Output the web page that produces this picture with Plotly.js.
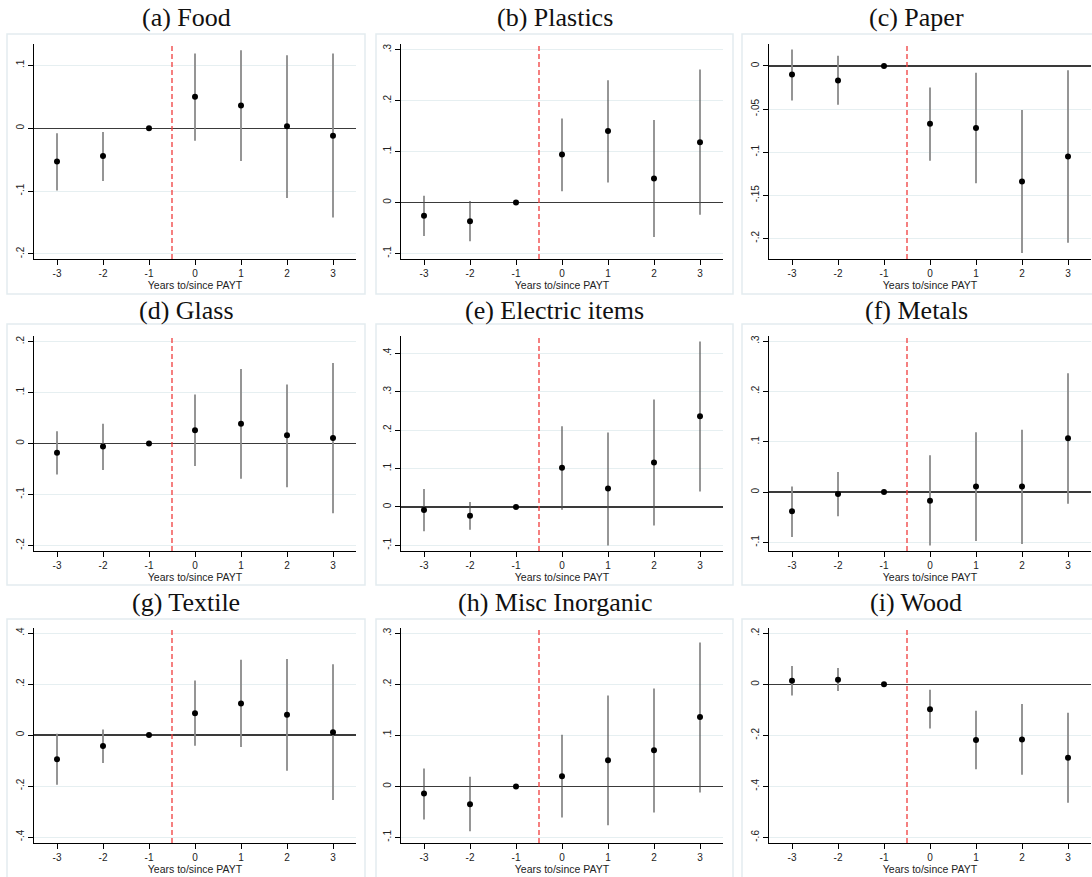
<!DOCTYPE html>
<html>
<head>
<meta charset="utf-8">
<script src="https://cdn.plot.ly/plotly-3.0.1.min.js"></script>
<style>html,body{margin:0;padding:0;background:#fff;}#chart{width:1092px;height:877px;}</style>
</head>
<body>
<div id="chart"></div>
<script>
// ---- Data ----
const years = [-3, -2, -1, 0, 1, 2, 3];
const xTickLabels = ["-3", "-2", "-1", "0", "1", "2", "3"];
const xAxisLabel = "Years to/since PAYT";
const eventLine = -0.5;

const panelTitles = ["(a) Food", "(b) Plastics", "(c) Paper", "(d) Glass", "(e) Electric items",
                     "(f) Metals", "(g) Textile", "(h) Misc Inorganic", "(i) Wood"];

const foodEst = [-0.053, -0.044, 0, 0.050, 0.036, 0.003, -0.012];
const foodHi  = [-0.008, -0.006, 0, 0.119, 0.124, 0.116, 0.119];
const foodLo  = [-0.099, -0.084, 0, -0.020, -0.052, -0.111, -0.142];

const plasticsEst = [-0.026, -0.037, 0, 0.094, 0.140, 0.047, 0.118];
const plasticsHi  = [0.013, 0.003, 0, 0.165, 0.240, 0.162, 0.261];
const plasticsLo  = [-0.066, -0.076, 0, 0.022, 0.039, -0.068, -0.024];

const paperEst = [-0.010, -0.017, 0, -0.067, -0.072, -0.134, -0.105];
const paperHi  = [0.019, 0.012, 0, -0.025, -0.008, -0.051, -0.005];
const paperLo  = [-0.040, -0.045, 0, -0.110, -0.136, -0.217, -0.205];

const glassEst = [-0.018, -0.006, 0, 0.026, 0.039, 0.016, 0.011];
const glassHi  = [0.024, 0.039, 0, 0.096, 0.146, 0.116, 0.158];
const glassLo  = [-0.061, -0.052, 0, -0.044, -0.069, -0.086, -0.137];

const electricEst = [-0.008, -0.023, 0, 0.102, 0.048, 0.116, 0.236];
const electricHi  = [0.047, 0.013, 0, 0.210, 0.194, 0.280, 0.431];
const electricLo  = [-0.063, -0.059, 0, -0.007, -0.100, -0.048, 0.040];

const metalsEst = [-0.038, -0.004, 0, -0.017, 0.011, 0.011, 0.107];
const metalsHi  = [0.011, 0.040, 0, 0.073, 0.119, 0.124, 0.236];
const metalsLo  = [-0.089, -0.048, 0, -0.106, -0.097, -0.103, -0.023];

const textileEst = [-0.095, -0.043, 0, 0.086, 0.124, 0.080, 0.011];
const textileHi  = [0.005, 0.022, 0, 0.214, 0.295, 0.298, 0.278];
const textileLo  = [-0.195, -0.110, 0, -0.042, -0.047, -0.140, -0.255];

const miscEst = [-0.014, -0.035, 0, 0.020, 0.051, 0.071, 0.136];
const miscHi  = [0.035, 0.019, 0, 0.101, 0.178, 0.192, 0.282];
const miscLo  = [-0.065, -0.088, 0, -0.061, -0.076, -0.051, -0.012];

const woodEst = [0.014, 0.018, 0, -0.098, -0.218, -0.216, -0.288];
const woodHi  = [0.072, 0.064, 0, -0.021, -0.103, -0.077, -0.111];
const woodLo  = [-0.044, -0.026, 0, -0.173, -0.333, -0.354, -0.464];

const foodTicks = [-0.2, -0.1, 0, 0.1];
const plasticsTicks = [-0.1, 0, 0.1, 0.2, 0.3];
const paperTicks = [-0.2, -0.15, -0.1, -0.05, 0];
const glassTicks = [-0.2, -0.1, 0, 0.1, 0.2];
const electricTicks = [-0.1, 0, 0.1, 0.2, 0.3, 0.4];
const metalsTicks = [-0.1, 0, 0.1, 0.2, 0.3];
const textileTicks = [-0.4, -0.2, 0, 0.2, 0.4];
const miscTicks = [-0.1, 0, 0.1, 0.2, 0.3];
const woodTicks = [-0.6, -0.4, -0.2, 0, 0.2];

const foodRange = [-0.208, 0.134];
const plasticsRange = [-0.111, 0.311];
const paperRange = [-0.224, 0.0255];
const glassRange = [-0.211, 0.211];
const electricRange = [-0.1146, 0.445];
const metalsRange = [-0.117, 0.31];
const textileRange = [-0.4235, 0.42];
const miscRange = [-0.111, 0.3105];
const woodRange = [-0.622, 0.221];

const panels = [
  {est: foodEst, hi: foodHi, lo: foodLo, ticks: foodTicks, range: foodRange},
  {est: plasticsEst, hi: plasticsHi, lo: plasticsLo, ticks: plasticsTicks, range: plasticsRange},
  {est: paperEst, hi: paperHi, lo: paperLo, ticks: paperTicks, range: paperRange},
  {est: glassEst, hi: glassHi, lo: glassLo, ticks: glassTicks, range: glassRange},
  {est: electricEst, hi: electricHi, lo: electricLo, ticks: electricTicks, range: electricRange},
  {est: metalsEst, hi: metalsHi, lo: metalsLo, ticks: metalsTicks, range: metalsRange},
  {est: textileEst, hi: textileHi, lo: textileLo, ticks: textileTicks, range: textileRange},
  {est: miscEst, hi: miscHi, lo: miscLo, ticks: miscTicks, range: miscRange},
  {est: woodEst, hi: woodHi, lo: woodLo, ticks: woodTicks, range: woodRange}
];

// ---- Geometry (pixels) ----
const W = 1092, H = 877;
const colL = [34, 401, 769], colR = [356, 723, 1091];
const rowT = [44, 336, 628], rowB = [259, 551, 843];
const boxL = [7, 376, 742], boxR = [365, 733, 1100];
const boxT = [34, 324, 619], boxB = [294, 585, 880];
const titleY = [17, 310, 602];

function fmt(v) {
  if (Math.abs(v) < 1e-12) return "0";
  let s = String(Math.round(v * 1000) / 1000);
  return s.replace("0.", ".");
}

const data = [];
const layout = {
  width: W, height: H,
  margin: {l: 0, r: 0, t: 0, b: 0},
  paper_bgcolor: "#ffffff", plot_bgcolor: "#ffffff",
  showlegend: false,
  shapes: [], annotations: []
};

panels.forEach((p, i) => {
  const r = Math.floor(i / 3), c = i % 3;
  const n = i + 1;
  const xa = "x" + (n === 1 ? "" : n), ya = "y" + (n === 1 ? "" : n);
  const xk = "xaxis" + (n === 1 ? "" : n), yk = "yaxis" + (n === 1 ? "" : n);
  const ciColor = (c === 1) ? "#505050" : "#8a8a8a";
  const ciWidth = (c === 1) ? 1.2 : 1.8;

  data.push({
    type: "scatter", mode: "markers", x: years, y: p.est,
    xaxis: xa, yaxis: ya,
    marker: {color: "#000000", size: 6},
    error_y: {type: "data", symmetric: false,
      array: p.hi.map((h, k) => h - p.est[k]),
      arrayminus: p.lo.map((l, k) => p.est[k] - l),
      width: 0, thickness: ciWidth, color: ciColor},
    hoverinfo: "x+y"
  });

  layout[xk] = {
    domain: [colL[c] / W, Math.min(colR[c] / W, 1)],
    anchor: ya, range: [-3.5, 3.5],
    tickvals: years, ticktext: xTickLabels,
    ticks: "outside", ticklen: 5, tickwidth: 1, tickcolor: "#000",
    showline: true, linecolor: "#000", linewidth: 1.3,
    showgrid: false, zeroline: false,
    tickfont: {family: "Liberation Sans, Arial, sans-serif", size: 10, color: "#222"},
    title: {text: xAxisLabel, standoff: 0,
      font: {family: "Liberation Sans, Arial, sans-serif", size: 10.5, color: "#222"}}
  };
  layout[yk] = {
    domain: [1 - rowB[r] / H, 1 - rowT[r] / H],
    anchor: xa, range: p.range,
    tickvals: p.ticks, ticktext: p.ticks.map(fmt), tickangle: -90,
    ticks: "outside", ticklen: 5, tickwidth: 1, tickcolor: "#000",
    showline: true, linecolor: "#000", linewidth: 1.3,
    showgrid: true, gridcolor: "#e6eff1", gridwidth: 1,
    zeroline: true, zerolinecolor: "#3a3a3a", zerolinewidth: 1.3,
    tickfont: {family: "Liberation Sans, Arial, sans-serif", size: 10, color: "#222"}
  };

  // panel border
  layout.shapes.push({type: "rect", xref: "paper", yref: "paper", layer: "below",
    x0: boxL[c] / W, x1: Math.min(boxR[c] / W, 1.2), y0: 1 - boxB[r] / H, y1: 1 - boxT[r] / H,
    line: {color: "#e3ecef", width: 1.5}, fillcolor: "rgba(0,0,0,0)"});
  // treatment line
  layout.shapes.push({type: "line", xref: xa, yref: ya + " domain", layer: "above",
    x0: eventLine, x1: eventLine, y0: 0, y1: 1,
    line: {color: "#f03c3c", width: 1.3, dash: "5px,3px"}});
  // panel title
  layout.annotations.push({xref: "paper", yref: "paper", showarrow: false,
    x: ((boxL[c] + Math.min(boxR[c], 1092 + 8)) / 2 - (c === 2 ? 5 : 0)) / W,
    y: 1 - titleY[r] / H, xanchor: "center", yanchor: "middle",
    text: panelTitles[i],
    font: {family: "Liberation Serif, Times New Roman, serif", size: 26, color: "#111"}});
});

Plotly.newPlot("chart", data, layout, {displayModeBar: false, staticPlot: true});
</script>
</body>
</html>
